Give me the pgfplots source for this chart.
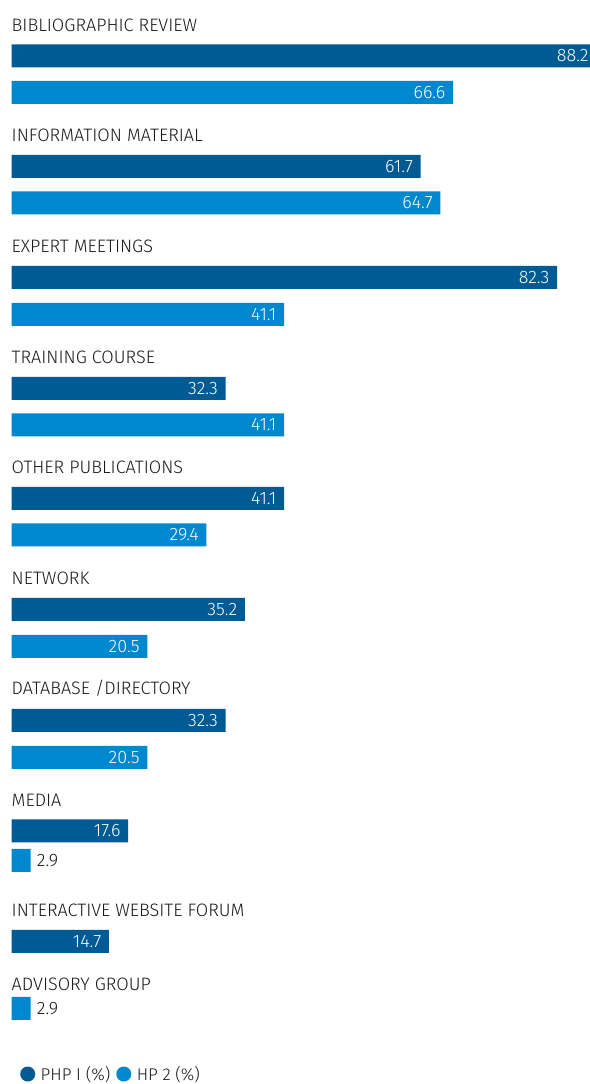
\documentclass[border=0pt]{standalone}
\usepackage{pgfplots}
\pgfplotsset{compat=1.18}
\usepackage{fontspec}
\setmainfont{Fira Sans}[UprightFont={* Light}]
\definecolor{dark}{HTML}{005B94}
\definecolor{light}{HTML}{0088CF}
\definecolor{txt}{HTML}{1A1A1A}
\pgfplotsset{
  barbase/.style={xbar, bar shift=0pt, bar width=23, draw=none, forget plot,
    point meta=explicit symbolic, nodes near coords},
  barIn/.style={barbase, fill=#1,
    every node near coord/.append style={anchor=east, text=white, xshift=-7.5bp, inner sep=0pt}},
  barOut/.style={barbase, fill=#1,
    every node near coord/.append style={anchor=west, text=txt, xshift=6bp, inner sep=0pt}},
}
\begin{document}
\begin{tikzpicture}[font=\fontsize{18bp}{21bp}\selectfont]
\path[use as bounding box, clip] (0,0) rectangle (590bp,1084bp);
\begin{axis}[
  scale only axis, width=596.3bp, height=1084bp,
  xmin=-1.735, xmax=88.2, ymin=0, ymax=1084,
  axis lines=none, xtick=\empty, ytick=\empty,
  axis background/.style={fill=white},
  clip=false,
  legend image code/.code={\path[draw=none,fill=none] (-7.5bp,0) -- (11bp,0); \fill[#1,draw=none] (0bp,0bp) circle (7.5bp);},
  legend columns=2,
  legend style={at={(0.0336,0.0092)}, anchor=west, draw=none, fill=none,
    inner sep=0pt, font=\fontsize{17bp}{19bp}\selectfont, text=txt,
    /tikz/every odd column/.append style={column sep=0bp},
    /tikz/every even column/.append style={column sep=4bp}},
]
% PHP I (%)
\addplot[barIn=dark] coordinates {
  (88.2,1028)[88.2] (61.7,917.5)[61.7] (82.3,806.5)[82.3] (32.3,695.5)[32.3]
  (41.1,585.5)[41.1] (35.2,474.5)[35.2] (32.3,363.5)[32.3] (17.6,253)[17.6]
  (14.7,142.5)[14.7]};
% HP 2 (%)
\addplot[barIn=light] coordinates {
  (66.6,991.5)[66.6] (64.7,881)[64.7] (41.1,769.5)[41.1] (41.1,659)[41.1]
  (29.4,549)[29.4] (20.5,437.5)[20.5] (20.5,326.5)[20.5]};
\addplot[barOut=light] coordinates {(2.9,223.5)[2.9] (2.9,75.5)[2.9]};

\addlegendimage{fill=dark}\addlegendentry{PHP I (\%)}
\addlegendimage{fill=light}\addlegendentry{HP 2 (\%)}

\begin{scope}[every node/.style={anchor=base west, inner sep=0pt, text=txt}]
\node at (axis cs:0,1052.5) {BIBLIOGRAPHIC REVIEW};
\node at (axis cs:0,942.5) {INFORMATION MATERIAL};
\node at (axis cs:0,831.5) {EXPERT MEETINGS};
\node at (axis cs:0,720.5) {TRAINING COURSE};
\node at (axis cs:0,610.5) {OTHER PUBLICATIONS};
\node at (axis cs:0,499.5) {NETWORK};
\node at (axis cs:0,389.5) {DATABASE /DIRECTORY};
\node at (axis cs:0,277.5) {MEDIA};
\node at (axis cs:0,167.5) {INTERACTIVE WEBSITE FORUM};
\node at (axis cs:0,93.5) {ADVISORY GROUP};
\end{scope}
\end{axis}
\end{tikzpicture}
\end{document}
